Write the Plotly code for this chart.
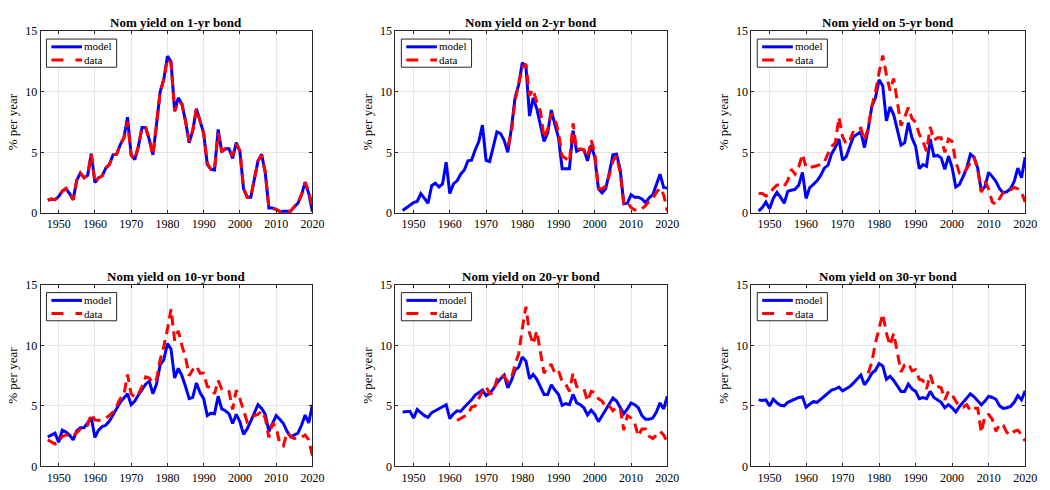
import plotly.graph_objects as go
from plotly.subplots import make_subplots

# ---- yields, % per year ----
years = list(range(1947, 2021))

model_1yr = [1.05, 1.15, 1.1, 1.35, 1.8, 2.0, 1.6, 1.1, 2.7, 3.3,
             2.9, 3.1, 4.9, 2.5, 2.9, 3.05, 3.7, 4.0, 4.8, 4.85,
             5.65, 6.2, 7.9, 4.8, 4.4, 5.5, 7.05, 7.05, 6.05, 4.8,
             7.3, 10.0, 11.0, 12.95, 12.5, 8.4, 9.5, 9.0, 7.6, 5.8,
             6.8, 8.6, 7.6, 6.6, 4.0, 3.6, 3.55, 6.9, 5.05, 5.3,
             5.3, 4.5, 5.8, 5.1, 2.0, 1.3, 1.3, 2.8, 4.3, 4.85,
             3.3, 0.4, 0.4, 0.3, 0.12, 0.15, 0.12, 0.15, 0.5, 0.8,
             1.5, 2.55, 1.6, 0.1]
data_1yr_start = 1947
data_1yr = [1.1, 1.15, 1.1, 1.35, 1.8, 2.05, 1.6, 1.1, 2.7, 3.3,
            2.9, 3.1, 4.85, 2.5, 2.9, 3.05, 3.7, 4.0, 4.8, 4.85,
            5.65, 6.2, 7.5, 4.8, 4.4, 5.5, 7.05, 7.05, 6.05, 4.8,
            7.3, 10.0, 11.0, 12.7, 12.4, 8.4, 9.2, 9.0, 7.6, 5.9,
            6.8, 8.6, 7.6, 6.6, 4.1, 3.6, 3.55, 6.6, 5.1, 5.3,
            5.3, 4.7, 5.7, 5.1, 2.1, 1.3, 1.3, 2.8, 4.3, 4.75,
            3.4, 0.45, 0.4, 0.3, 0.12, 0.15, 0.12, 0.15, 0.5, 0.8,
            1.5, 2.5, 1.8, 0.5]

model_2yr = [0.2, 0.4, 0.6, 0.85, 0.95, 1.6, 1.2, 0.8, 2.25, 2.45,
             2.15, 2.4, 4.2, 1.6, 2.4, 2.65, 3.2, 3.55, 4.3, 4.35,
             5.2, 5.9, 7.25, 4.35, 4.25, 5.5, 6.7, 6.55, 6.0, 5.0,
             7.0, 9.5, 10.6, 12.4, 12.1, 8.0, 9.5, 8.6, 7.2, 5.9,
             6.6, 8.5, 7.3, 6.2, 3.65, 3.65, 3.65, 6.8, 5.1, 5.25,
             5.2, 4.3, 5.6, 4.6, 2.0, 1.65, 2.0, 3.3, 4.8, 4.85,
             3.6, 0.75, 0.8, 1.5, 1.3, 1.3, 1.15, 0.85, 1.25, 1.5,
             2.3, 3.2, 2.1, 2.05]
data_2yr_start = 1976
data_2yr = [5.5, 6.6, 9.3, 10.8, 12.0, 12.3, 9.7, 10.2, 9.1, 8.4,
            6.2, 6.9, 8.2, 7.8, 6.6, 4.7, 4.5, 4.2, 7.4, 5.2,
            5.3, 5.2, 4.6, 6.0, 5.0, 2.0, 2.0, 2.2, 3.1, 4.3,
            4.7, 3.3, 0.8, 0.9, 0.45, 0.25, 0.25, 0.35, 0.6, 1.0,
            1.2, 1.7, 2.05, 1.5, 0.15]

model_5yr = [0.15, 0.45, 0.9, 0.35, 1.2, 1.7, 1.3, 0.8, 1.8, 1.9,
             1.95, 2.3, 3.35, 1.2, 2.1, 2.35, 2.65, 3.1, 3.7, 3.95,
             4.9, 5.4, 6.1, 4.35, 4.65, 5.5, 6.3, 6.5, 6.7, 5.4,
             6.9, 8.8, 9.5, 11.0, 10.5, 7.6, 8.75, 8.1, 6.9, 5.6,
             5.8, 7.45, 6.2, 5.5, 3.65, 4.0, 3.85, 6.1, 4.7, 4.75,
             4.55, 3.6, 4.7, 3.75, 2.15, 2.35, 3.0, 3.7, 4.85, 4.6,
             3.7, 1.8, 2.2, 3.35, 3.0, 2.6, 2.0, 1.65, 1.75, 2.0,
             2.6, 3.7, 2.9, 4.6]
data_5yr_start = 1947
data_5yr = [1.6, 1.6, 1.4, 1.55, 2.0, 2.3, 2.35, 2.2, 2.7, 3.6,
            3.2, 3.8, 4.85, 3.75, 3.75, 3.8, 3.9, 4.0, 4.2, 4.9,
            5.5, 5.8, 7.9, 6.3, 5.7, 6.0, 6.8, 6.9, 7.0, 6.0,
            7.0, 8.8, 10.0, 11.6, 13.0, 11.4, 10.1, 11.1, 9.0, 7.2,
            7.9, 8.7, 7.8, 7.5, 6.5, 5.9, 5.1, 7.1, 6.0, 6.2,
            6.2, 5.0, 6.1, 5.9, 4.2, 3.3, 3.2, 3.7, 4.2, 4.6,
            3.6, 1.7, 2.6, 2.0, 0.9, 0.7, 1.2, 1.7, 1.8, 1.9,
            2.1, 2.0, 1.7, 0.9]

model_10yr = [2.45, 2.6, 2.75, 2.0, 3.0, 2.85, 2.6, 2.2, 2.95, 3.2,
              3.2, 3.6, 4.05, 2.4, 3.0, 3.3, 3.4, 3.75, 4.3, 4.8,
              5.3, 5.65, 6.0, 5.1, 5.4, 5.9, 6.4, 6.8, 7.05, 6.0,
              6.8, 8.4, 8.8, 10.15, 9.7, 7.3, 8.1, 7.5, 6.6, 5.6,
              5.7, 6.9, 6.1, 5.6, 4.2, 4.4, 4.35, 5.8, 4.75, 4.6,
              4.35, 3.55, 4.3, 3.7, 2.65, 3.1, 3.75, 4.4, 5.1, 4.8,
              4.3, 2.9, 3.6, 4.2, 3.9, 3.55, 2.9, 2.45, 2.6, 2.75,
              3.4, 4.25, 3.6, 5.1]
data_10yr_start = 1947
data_10yr = [2.2, 2.0, 1.85, 2.0, 2.5, 2.6, 2.6, 2.5, 2.8, 3.1,
             3.25, 3.4, 4.35, 3.85, 3.8, 3.9, 4.0, 4.2, 4.5, 5.0,
             5.6, 5.9, 7.6, 6.0, 5.7, 6.0, 6.6, 7.4, 7.3, 6.9,
             7.2, 8.8, 9.9, 11.3, 13.0, 10.4, 11.2, 10.0, 9.0, 7.5,
             8.0, 8.3, 7.7, 7.7, 6.6, 6.5, 6.0, 7.1, 6.4, 6.4,
             6.2, 4.7, 6.3, 5.6, 4.6, 3.7, 4.0, 4.2, 4.3, 4.6,
             4.0, 2.4, 3.6, 3.2, 1.9, 1.7, 2.8, 2.5, 2.3, 2.4,
             2.4, 2.6, 2.2, 0.9]

model_20yr = [4.5, 4.5, 4.55, 4.0, 4.7, 4.45, 4.2, 4.05, 4.45, 4.6,
              4.75, 4.95, 5.1, 3.95, 4.35, 4.6, 4.55, 4.9, 5.2, 5.5,
              5.9, 6.1, 6.3, 5.85, 6.05, 6.4, 6.9, 7.25, 7.55, 6.5,
              7.1, 7.95, 8.2, 9.05, 8.7, 7.25, 7.6, 7.2, 6.6, 5.95,
              5.95, 6.75, 6.3, 5.95, 5.05, 5.2, 5.1, 5.95, 5.25, 5.1,
              4.85, 4.25, 4.65, 4.3, 3.7, 4.2, 4.7, 5.2, 5.65, 5.4,
              4.9, 4.35, 4.75, 5.25, 5.1, 4.85, 4.2, 3.9, 3.9, 4.0,
              4.5, 5.25, 4.75, 5.8]
data_20yr_start = 1962
data_20yr = [3.8, 4.0, 4.15, 4.3, 4.9, 5.0, 5.6, 6.2, 6.6, 6.0,
             6.1, 7.2, 7.6, 7.4, 7.0, 7.3, 8.4, 9.3, 11.4, 13.2,
             11.0, 10.1, 11.2, 9.5, 7.7, 8.3, 8.4, 7.7, 7.9, 7.0,
             6.8, 6.2, 7.7, 6.6, 6.5, 6.4, 5.4, 6.2, 6.1, 5.6,
             5.4, 4.9, 5.0, 4.6, 4.9, 4.8, 3.0, 4.2, 4.0, 3.6,
             2.5, 3.1, 3.1, 2.5, 2.3, 2.6, 2.9, 2.6, 2.0]

model_30yr = [5.5, 5.45, 5.5, 5.0, 5.55, 5.25, 5.05, 5.0, 5.3, 5.45,
              5.55, 5.7, 5.75, 4.9, 5.15, 5.35, 5.3, 5.55, 5.85, 6.05,
              6.3, 6.4, 6.55, 6.25, 6.45, 6.6, 6.9, 7.2, 7.55, 6.75,
              7.15, 7.7, 7.95, 8.5, 8.3, 7.2, 7.45, 7.1, 6.65, 6.2,
              6.2, 6.8, 6.4, 6.2, 5.6, 5.7, 5.6, 6.2, 5.7, 5.5,
              5.3, 4.85, 5.1, 4.85, 4.5, 4.95, 5.3, 5.7, 6.0, 5.75,
              5.45, 5.1, 5.4, 5.8, 5.7, 5.55, 5.0, 4.8, 4.85, 4.95,
              5.3, 5.85, 5.5, 6.25]
data_30yr_start = 1977
data_30yr = [7.7, 8.6, 10.2, 11.3, 12.6, 11.0, 10.0, 11.0, 9.3, 7.8,
             8.4, 8.5, 7.9, 8.0, 7.2, 7.1, 6.4, 7.6, 6.6, 6.6,
             6.5, 5.5, 6.2, 5.9, 5.4, 5.0, 4.9, 5.1, 4.6, 4.8,
             4.8, 2.8, 4.2, 4.3, 3.9, 2.9, 3.5, 3.4, 2.8, 2.6,
             2.9, 3.0, 2.6, 2.1]

maturities = ["1-yr", "2-yr", "5-yr", "10-yr", "20-yr", "30-yr"]
model_series = [model_1yr, model_2yr, model_5yr, model_10yr, model_20yr, model_30yr]
data_series = [data_1yr, data_2yr, data_5yr, data_10yr, data_20yr, data_30yr]
data_starts = [data_1yr_start, data_2yr_start, data_5yr_start,
               data_10yr_start, data_20yr_start, data_30yr_start]
legend_labels = ["model", "data"]

x_ticks = [1950, 1960, 1970, 1980, 1990, 2000, 2010, 2020]
y_ticks = [0, 5, 10, 15]

# ---- page geometry (pixels) ----
W, H = 1050, 490
col_px = [(41, 316), (400, 675), (760, 1037)]
row_px = [(25, 212), (286, 473)]

FONT = "Liberation Serif"
AXIS_COLOR = "#262626"
GRID_COLOR = "#e6e6e6"
BLUE = "#0000ff"
RED = "#ff0000"
LINE_DASH = "10px,6px"


def px(x):
    return x / W


def py(y):
    return 1 - y / H


fig = make_subplots(rows=2, cols=3)
annotations = []
shapes = []

for k in range(6):
    r, c = divmod(k, 3)
    x0, x1 = col_px[c]
    y0, y1 = row_px[r]
    ax = "" if k == 0 else str(k + 1)

    fig.add_trace(go.Scatter(
        x=years, y=model_series[k], mode="lines", name=legend_labels[0],
        line=dict(color=BLUE, width=3), showlegend=False),
        row=r + 1, col=c + 1)
    d_years = list(range(data_starts[k], data_starts[k] + len(data_series[k])))
    fig.add_trace(go.Scatter(
        x=d_years, y=data_series[k], mode="lines", name=legend_labels[1],
        line=dict(color=RED, width=3, dash=LINE_DASH), showlegend=False),
        row=r + 1, col=c + 1)

    axis_common = dict(
        tickmode="array", showgrid=True, gridcolor=GRID_COLOR, gridwidth=1,
        zeroline=False, showline=True, linecolor=AXIS_COLOR, linewidth=1,
        mirror="ticks", ticks="inside", ticklen=3, tickcolor=AXIS_COLOR,
        tickfont=dict(family=FONT, size=12, color="#000000"))
    fig.layout["xaxis" + ax].update(
        domain=[px(x0), px(x1)], range=[1945, 2020], tickvals=x_ticks,
        **axis_common)
    fig.layout["yaxis" + ax].update(
        domain=[py(y1), py(y0)], range=[0, 15], tickvals=y_ticks,
        title=dict(text="% per year", standoff=4,
                   font=dict(family=FONT, size=13, color="#000000")),
        **axis_common)

    # per-panel legend: framed box, two line samples, stacked labels
    bx0, by0 = x0 + 6, y0 + 8
    bx1, by1 = bx0 + 71, by0 + 29
    shapes.append(dict(type="rect", xref="paper", yref="paper",
                       x0=px(bx0), x1=px(bx1), y0=py(by1), y1=py(by0),
                       line=dict(color=AXIS_COLOR, width=1),
                       fillcolor="#ffffff", layer="above"))
    for row_off, colr, dash in [(8, BLUE, "solid"), (21.5, RED, "12px,12px")]:
        shapes.append(dict(type="line", xref="paper", yref="paper",
                           x0=px(bx0 + 5), x1=px(bx0 + 36),
                           y0=py(by0 + row_off), y1=py(by0 + row_off),
                           line=dict(color=colr, width=3, dash=dash),
                           layer="above"))
    annotations.append(dict(
        text="<br>".join(legend_labels), align="left",
        x=px(bx0 + 36), y=py(by0 + 14.8),
        xref="paper", yref="paper", xanchor="left", yanchor="middle",
        showarrow=False, font=dict(family=FONT, size=11, color="#000000")))

    annotations.append(dict(
        text=f"<b>Nom yield on {maturities[k]} bond</b>",
        x=px((x0 + x1) / 2), y=py(y0 - 9),
        xref="paper", yref="paper", xanchor="center", yanchor="middle",
        showarrow=False, font=dict(family=FONT, size=13, color="#000000")))

fig.update_layout(
    width=W, height=H, margin=dict(l=0, r=0, t=0, b=0),
    paper_bgcolor="#ffffff", plot_bgcolor="#ffffff",
    showlegend=False, annotations=annotations, shapes=shapes)

fig.write_html("out.html")
